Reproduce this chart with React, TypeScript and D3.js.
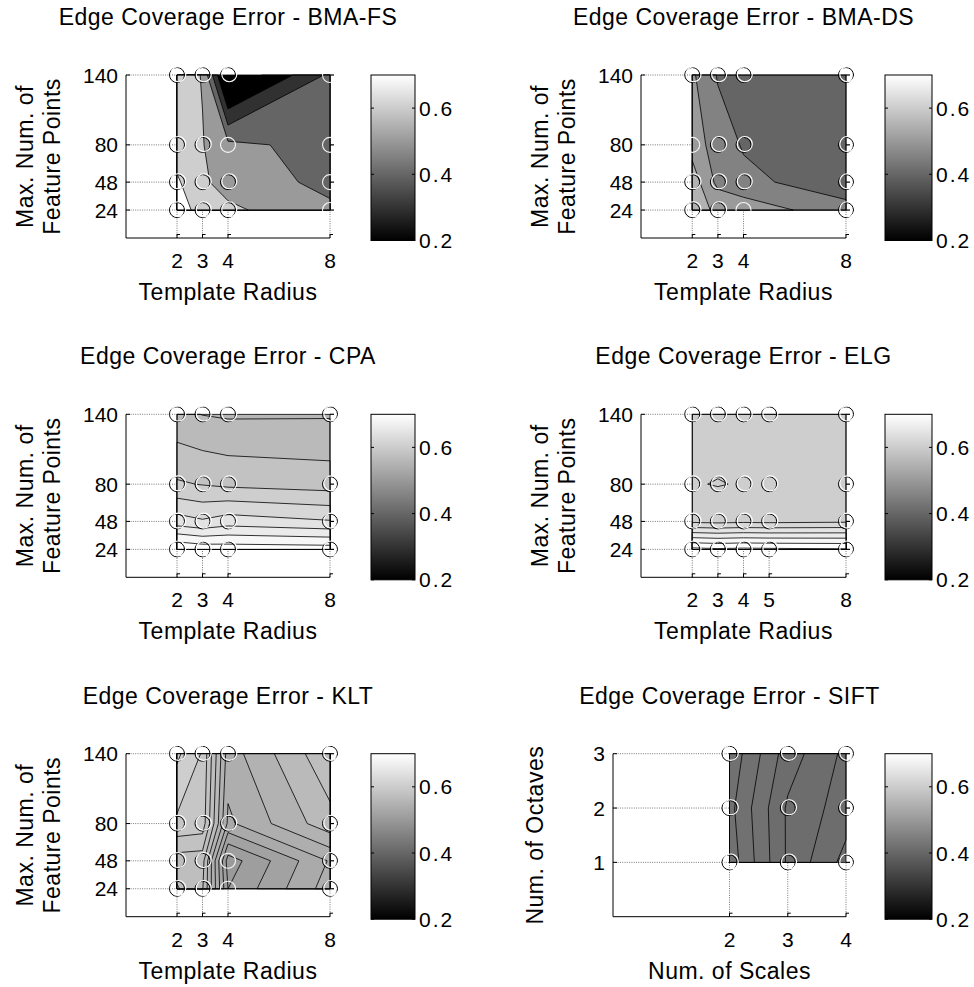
import React from 'react';
import * as d3 from 'd3';

const FONT = '"Liberation Sans", Arial, Helvetica, sans-serif';

// ---------- axis ticks / categories ----------
const radiusTicks = [2, 3, 4, 8];
const radiusTicksELG = [2, 3, 4, 5, 8];
const featureTicks = [24, 48, 80, 140];
const scaleTicks = [2, 3, 4];
const octaveTicks = [1, 2, 3];
const colorbarTicks = [0.2, 0.4, 0.6];

// ---------- error values: rows = y ascending, cols = x ascending ----------
const errBMAFS = [
  [0.72, 0.684, 0.62, 0.519],
  [0.714, 0.616, 0.56, 0.473],
  [0.65, 0.605, 0.5225, 0.468],
  [0.65, 0.595, 0.09, 0.42],
];
const errBMADS = [
  [0.571, 0.541, 0.533, 0.465],
  [0.577, 0.486, 0.461, 0.425],
  [0.53, 0.473, 0.446, 0.43],
  [0.508, 0.446, 0.43, 0.42],
];
const errCPA = [
  [0.7186, 0.713, 0.7115, 0.71],
  [0.649, 0.6425, 0.65, 0.6415],
  [0.6025, 0.599, 0.5956, 0.591],
  [0.565, 0.5595, 0.5574, 0.558],
];
const errELG = [
  [0.726, 0.723, 0.725, 0.724, 0.722],
  [0.616, 0.614, 0.616, 0.615, 0.617],
  [0.6015, 0.599, 0.6015, 0.606, 0.607],
  [0.606, 0.612, 0.607, 0.608, 0.609],
];
const errKLT = [
  [0.581, 0.571, 0.51, 0.545],
  [0.575, 0.574, 0.505, 0.541],
  [0.598, 0.596, 0.538, 0.5663],
  [0.612, 0.599, 0.545, 0.578],
];
const errSIFT = [
  [0.4252, 0.4177, 0.4133],
  [0.4246, 0.4177, 0.415],
  [0.4254, 0.419, 0.4155],
];

// ---------- contour levels ----------
const levelsBMAFS = [0.2, 0.3, 0.4, 0.5, 0.6, 0.7];
const levelsBMADS = [0.4, 0.45, 0.5, 0.55];
const levelsCPA = [0.56, 0.58, 0.6, 0.62, 0.64, 0.66, 0.68, 0.7];
const levelsELG = [0.6, 0.62, 0.64, 0.66, 0.68, 0.7, 0.72];
const levelsKLT = [0.5, 0.51, 0.52, 0.53, 0.54, 0.55, 0.56, 0.57, 0.58, 0.59, 0.6, 0.61, 0.62];
const levelsSIFT = [0.414, 0.416, 0.418, 0.42, 0.422, 0.424];

// markers whose dark outline is not visible ([xIndex, yIndex])
const paleBMAFS = [[2, 2], [3, 0], [3, 1], [3, 2], [3, 3]];
const paleBMADS = [[0, 2], [2, 0]];
const paleKLT = [[2, 0], [2, 1]];

const titles = [
  'Edge Coverage Error - BMA-FS',
  'Edge Coverage Error - BMA-DS',
  'Edge Coverage Error - CPA',
  'Edge Coverage Error - ELG',
  'Edge Coverage Error - KLT',
  'Edge Coverage Error - SIFT',
];
const xLabels = ['Template Radius', 'Num. of Scales'];
const yLabelsFeature = ['Max. Num. of', 'Feature Points'];
const yLabelsOctave = ['Num. of Octaves'];

// ---------- layout ----------
const ROW_TOP = [75, 414.3, 753.7];
const AX_H = 163;
const CB_H = 165.5;

function grayColor(v: number) {
  const cmin = 0.2, cmax = 0.7;
  let idx = Math.floor(((v - cmin) / (cmax - cmin)) * 64 + 1e-9);
  idx = Math.max(0, Math.min(63, idx));
  const g = Math.round((idx / 63) * 255);
  return `rgb(${g},${g},${g})`;
}

function mapCoord(c: number, arr: number[]) {
  let idx = c - 0.5;
  idx = Math.max(0, Math.min(arr.length - 1, idx));
  const i0 = Math.min(Math.floor(idx), arr.length - 2);
  const t = idx - i0;
  return arr[i0] + t * (arr[i0 + 1] - arr[i0]);
}

type PanelCfg = {
  title: string;
  xs: number[];
  ys: number[];
  values: number[][];
  levels: number[];
  xmax: number;
  ymax: number;
  left: number;
  right: number;
  top: number;
  cbLeft: number;
  cbRight: number;
  xlabel: string;
  ylabel: string[];
  ylabelX: number[];
  pale: number[][];
  id: string;
};

function Panel({ cfg }: { cfg: PanelCfg }) {
  const { xs, ys, values, levels, xmax, ymax, left, right, top } = cfg;
  const bottom = top + AX_H;
  const x = d3.scaleLinear().domain([0, xmax]).range([left, right]);
  const y = d3.scaleLinear().domain([0, ymax]).range([bottom, top]);
  const nx = xs.length, ny = ys.length;
  const flat = values.flat();
  const gen = d3.contours().size([nx, ny]).thresholds(levels);
  const cs = gen(flat);
  const paths = cs.map((c: any) => {
    let d = '';
    c.coordinates.forEach((poly: number[][][]) =>
      poly.forEach((ring: number[][]) => {
        ring.forEach((p, k) => {
          const px = x(mapCoord(p[0], xs));
          const py = y(mapCoord(p[1], ys));
          d += (k ? 'L' : 'M') + px.toFixed(2) + ',' + py.toFixed(2);
        });
        d += 'Z';
      })
    );
    return { d, value: c.value };
  });
  const minV = d3.min(flat) as number;
  const rx0 = x(xs[0]), rx1 = x(xs[nx - 1]);
  const ry0 = y(ys[ny - 1]), ry1 = y(ys[0]);
  const cy = (top + bottom) / 2;
  const paleSet = new Set(cfg.pale.map((p) => p[0] + '_' + p[1]));

  const cbTop = top;
  const cbBottom = top + CB_H;
  const cbScale = d3.scaleLinear().domain([0.2, 0.7]).range([cbBottom, cbTop]);
  const gradId = 'grad_' + cfg.id;

  const points: { i: number; j: number }[] = [];
  ys.forEach((_, j) => xs.forEach((_, i) => points.push({ i, j })));

  return (
    <g>
      {/* guide dotted lines */}
      {ys.map((v) => (
        <line key={'hy' + v} x1={left} x2={rx0} y1={y(v)} y2={y(v)} stroke="#555" strokeWidth={0.8} strokeDasharray="1 1.3" />
      ))}
      {xs.map((v) => (
        <line key={'vx' + v} x1={x(v)} x2={x(v)} y1={bottom} y2={ry1} stroke="#555" strokeWidth={0.8} strokeDasharray="1 1.3" />
      ))}
      {/* contour fill */}
      <rect x={rx0} y={ry0} width={rx1 - rx0} height={ry1 - ry0} fill={grayColor(minV)} />
      {paths.map((p, k) => (
        <path key={'c' + k} d={p.d} fill={grayColor(p.value)} fillRule="evenodd" stroke="#000" strokeWidth={0.8} strokeLinejoin="round" />
      ))}
      <rect x={rx0} y={ry0} width={rx1 - rx0} height={ry1 - ry0} fill="none" stroke="#000" strokeWidth={0.8} />
      {/* axes */}
      <line x1={left} x2={left} y1={top} y2={bottom} stroke="#000" strokeWidth={1} />
      <line x1={left} x2={right} y1={bottom} y2={bottom} stroke="#000" strokeWidth={1} />
      {ys.map((v) => (
        <line key={'ty' + v} x1={left} x2={left + 4} y1={y(v)} y2={y(v)} stroke="#000" strokeWidth={1} />
      ))}
      {xs.map((v) => (
        <g key={'tx' + v}>
          <line x1={x(v)} x2={x(v)} y1={bottom} y2={bottom - 4} stroke="#000" strokeWidth={1} />
          <line x1={x(v)} x2={x(v) + 3} y1={bottom - 3.5} y2={bottom - 3.5} stroke="#000" strokeWidth={1} />
        </g>
      ))}
      {ys.map((v) => (
        <line key={'ry' + v} x1={x(xmax)} x2={x(xmax) + 4} y1={y(v)} y2={y(v)} stroke="#000" strokeWidth={1.2} />
      ))}
      {/* markers */}
      {points.map(({ i, j }) => {
        const px = x(xs[i]), py = y(ys[j]);
        const pale = paleSet.has(i + '_' + j);
        return (
          <g key={'m' + i + '_' + j}>
            {!pale && <circle cx={px} cy={py} r={7.5} fill="none" stroke="#000" strokeWidth={1} />}
            <circle cx={px + (pale ? 0 : 1.3)} cy={py - (pale ? 0 : 0.8)} r={7.5} fill="none" stroke="#fff" strokeWidth={1.1} strokeOpacity={pale ? 0.9 : 1} />
          </g>
        );
      })}
      {/* tick labels */}
      {ys.map((v) => (
        <text key={'ly' + v} x={left - 8} y={y(v)} dy="0.36em" textAnchor="end" fontSize={21} fontFamily={FONT}>{v}</text>
      ))}
      {xs.map((v) => (
        <text key={'lx' + v} x={x(v)} y={bottom + 30} textAnchor="middle" fontSize={21} fontFamily={FONT}>{v}</text>
      ))}
      {/* labels */}
      <text x={(left + right) / 2} y={top - 50} textAnchor="middle" fontSize={23} letterSpacing={0.5} fontFamily={FONT}>{cfg.title}</text>
      <text x={(left + right) / 2} y={bottom + 62} textAnchor="middle" fontSize={23} letterSpacing={0.5} fontFamily={FONT}>{cfg.xlabel}</text>
      {cfg.ylabel.map((t, k) => (
        <text key={'yl' + k} x={cfg.ylabelX[k]} y={cy} transform={`rotate(-90, ${cfg.ylabelX[k]}, ${cy})`} textAnchor="middle" fontSize={23} letterSpacing={0.5} fontFamily={FONT}>{t}</text>
      ))}
      {/* colorbar */}
      <defs>
        <linearGradient id={gradId} x1="0" y1="1" x2="0" y2="0">
          <stop offset="0%" stopColor="#000" />
          <stop offset="100%" stopColor="#fff" />
        </linearGradient>
      </defs>
      <rect x={cfg.cbLeft} y={cbTop} width={cfg.cbRight - cfg.cbLeft} height={CB_H} fill={`url(#${gradId})`} stroke="#000" strokeWidth={1} />
      {colorbarTicks.map((t) => (
        <g key={'cb' + t}>
          <line x1={cfg.cbLeft} x2={cfg.cbLeft + 3} y1={cbScale(t)} y2={cbScale(t)} stroke="#000" strokeWidth={1} />
          <line x1={cfg.cbRight} x2={cfg.cbRight - 3} y1={cbScale(t)} y2={cbScale(t)} stroke="#000" strokeWidth={1} />
          <text x={cfg.cbRight + 4} y={cbScale(t)} dy="0.36em" fontSize={21} letterSpacing={2} fontFamily={FONT}>{t.toFixed(1)}</text>
        </g>
      ))}
    </g>
  );
}

export default function App() {
  const L = { left: 126, right: 330, cbLeft: 371, cbRight: 415, ylabelX: [33, 60] };
  const R = { left: 641, right: 846, cbLeft: 885, cbRight: 932, ylabelX: [548, 575] };
  const panels: PanelCfg[] = [
    { id: 'p1', title: titles[0], xs: radiusTicks, ys: featureTicks, values: errBMAFS, levels: levelsBMAFS, xmax: 8, ymax: 140, top: ROW_TOP[0], xlabel: xLabels[0], ylabel: yLabelsFeature, pale: paleBMAFS, ...L },
    { id: 'p2', title: titles[1], xs: radiusTicks, ys: featureTicks, values: errBMADS, levels: levelsBMADS, xmax: 8, ymax: 140, top: ROW_TOP[0], xlabel: xLabels[0], ylabel: yLabelsFeature, pale: paleBMADS, ...R },
    { id: 'p3', title: titles[2], xs: radiusTicks, ys: featureTicks, values: errCPA, levels: levelsCPA, xmax: 8, ymax: 140, top: ROW_TOP[1], xlabel: xLabels[0], ylabel: yLabelsFeature, pale: [], ...L },
    { id: 'p4', title: titles[3], xs: radiusTicksELG, ys: featureTicks, values: errELG, levels: levelsELG, xmax: 8, ymax: 140, top: ROW_TOP[1], xlabel: xLabels[0], ylabel: yLabelsFeature, pale: [], ...R },
    { id: 'p5', title: titles[4], xs: radiusTicks, ys: featureTicks, values: errKLT, levels: levelsKLT, xmax: 8, ymax: 140, top: ROW_TOP[2], xlabel: xLabels[0], ylabel: yLabelsFeature, pale: paleKLT, ...L },
    { id: 'p6', title: titles[5], xs: scaleTicks, ys: octaveTicks, values: errSIFT, levels: levelsSIFT, xmax: 4, ymax: 3, top: ROW_TOP[2], xlabel: xLabels[1], ylabel: yLabelsOctave, pale: [], ...R, left: 613, ylabelX: [543] },
  ];
  return (
    <svg width={974} height={987} style={{ position: 'absolute', left: 0, top: 0, background: '#fff' }} xmlns="http://www.w3.org/2000/svg">
      <rect x={0} y={0} width={974} height={987} fill="#fff" />
      {panels.map((p) => (
        <Panel key={p.id} cfg={p} />
      ))}
    </svg>
  );
}
